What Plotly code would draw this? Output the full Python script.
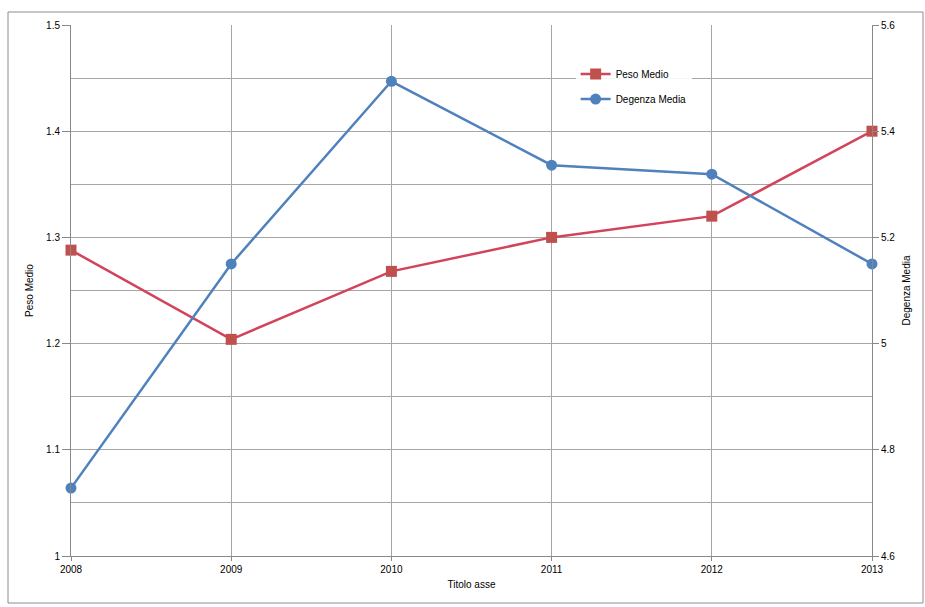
import plotly.graph_objects as go

years = ["2008", "2009", "2010", "2011", "2012", "2013"]
peso_medio = [1.288, 1.204, 1.268, 1.300, 1.320, 1.400]
degenza_media = [4.728, 5.150, 5.494, 5.336, 5.319, 5.150]

left_ticks = [1, 1.1, 1.2, 1.3, 1.4, 1.5]
left_labels = ["1", "1.1", "1.2", "1.3", "1.4", "1.5"]
right_ticks = [4.6, 4.8, 5.0, 5.2, 5.4, 5.6]
right_labels = ["4.6", "4.8", "5", "5.2", "5.4", "5.6"]

FONT = "Liberation Sans"

fig = go.Figure()
fig.add_trace(go.Scatter(
    x=years, y=peso_medio, name="Peso Medio", mode="lines+markers",
    legendgroup="a", cliponaxis=False,
    line=dict(color="#D2435C", width=2.5),
    marker=dict(symbol="square", size=11, color="#C0504D", line=dict(color="#C0504D", width=0)),
    yaxis="y"))
fig.add_trace(go.Scatter(
    x=years, y=degenza_media, name="Degenza Media", mode="lines+markers",
    legendgroup="b", cliponaxis=False,
    line=dict(color="#4F81BD", width=2.5),
    marker=dict(symbol="circle", size=11, color="#4F81BD", line=dict(color="#4F81BD", width=0)),
    yaxis="y2"))

grid = "#A6A6A6"
fig.update_layout(
    width=925, height=607,
    margin=dict(l=71, r=53, t=25, b=51),
    paper_bgcolor="white", plot_bgcolor="white",
    font=dict(family=FONT, size=10, color="#000000"),
    showlegend=True,
    legend=dict(x=0.63, y=0.935, xanchor="left", yanchor="top",
                bgcolor="rgba(255,255,255,0.9)", font=dict(size=10, family=FONT),
                itemwidth=30, tracegroupgap=6),
    xaxis=dict(
        type="category", range=[0, 5], showgrid=True, gridcolor=grid, gridwidth=1,
        showline=True, linecolor="#888888", linewidth=1,
        ticks="outside", ticklen=4, tickcolor="#888888",
        title=dict(text="Titolo asse", font=dict(size=10), standoff=6),
        tickfont=dict(size=10), zeroline=False),
    yaxis=dict(
        range=[1, 1.5], tickvals=left_ticks, ticktext=left_labels,
        showgrid=True, gridcolor=grid, gridwidth=1,
        minor=dict(dtick=0.05, tick0=1, showgrid=True, gridcolor=grid, gridwidth=1),
        showline=True, linecolor="#888888", linewidth=1,
        ticks="outside", ticklen=8, tickcolor="#888888",
        title=dict(text="Peso Medio", font=dict(size=10), standoff=10),
        tickfont=dict(size=10), zeroline=False),
    yaxis2=dict(
        range=[4.6, 5.6], tickvals=right_ticks, ticktext=right_labels,
        overlaying="y", side="right", showgrid=False,
        showline=True, linecolor="#888888", linewidth=1,
        ticks="outside", ticklen=6, tickcolor="#888888",
        title=dict(text="Degenza Media", font=dict(size=10), standoff=8),
        tickfont=dict(size=10), zeroline=False),
    shapes=[dict(type="rect", xref="paper", yref="paper",
                 x0=(8 - 71) / 801, x1=(923 - 71) / 801,
                 y0=(556 - 603) / 531, y1=(556 - 12) / 531,
                 line=dict(color="#8C8C8C", width=1), fillcolor="rgba(0,0,0,0)", layer="below")],
)

fig.write_html("out.html")
